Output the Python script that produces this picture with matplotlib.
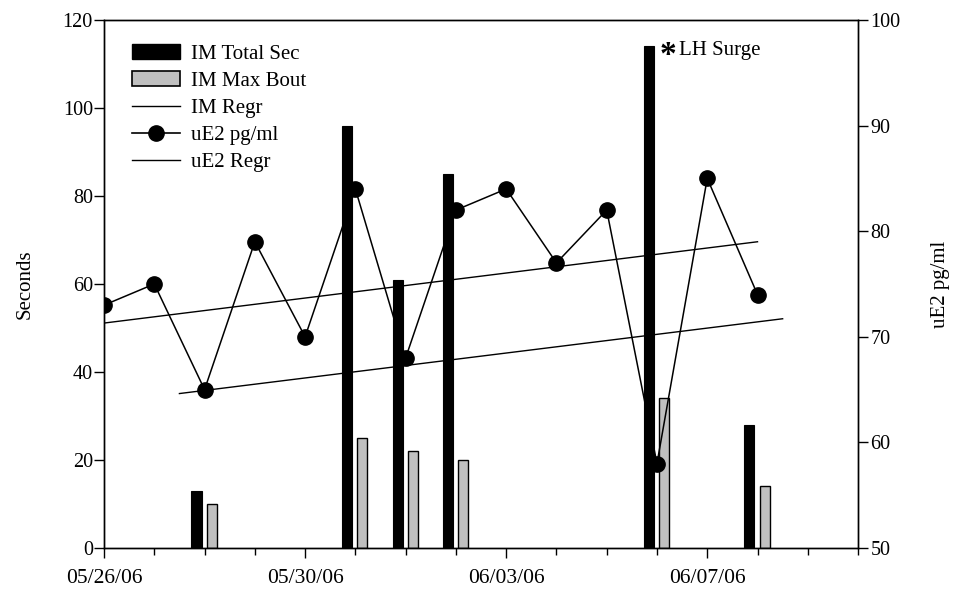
import matplotlib
matplotlib.use("Agg")
import matplotlib.pyplot as plt
import matplotlib.dates as mdates
from matplotlib.patches import Patch
from matplotlib.lines import Line2D
import numpy as np

plt.rcParams['font.family'] = ['Liberation Serif', 'DejaVu Serif']

# ---- data ----
bar_dates = ['2006-05-28', '2006-05-31', '2006-06-01', '2006-06-02', '2006-06-06', '2006-06-08']
im_total_sec = [13, 96, 61, 85, 114, 28]
im_max_bout = [10, 25, 22, 20, 34, 14]

ue2_dates = ['2006-05-26', '2006-05-27', '2006-05-28', '2006-05-29', '2006-05-30', '2006-05-31',
             '2006-06-01', '2006-06-02', '2006-06-03', '2006-06-04', '2006-06-05', '2006-06-06',
             '2006-06-07', '2006-06-08']
ue2_values = [73, 75, 65, 79, 70, 84, 68, 82, 84, 77, 82, 58, 85, 74]

im_regr_dates = ['2006-05-27 12:00', '2006-06-08 12:00']
im_regr_values = [35.1, 52.1]
ue2_regr_dates = ['2006-05-26', '2006-06-08']
ue2_regr_values = [71.3, 79.0]

legend_labels = ['IM Total Sec', 'IM Max Bout', 'IM Regr', 'uE2 pg/ml', 'uE2 Regr']
annotation_date = '2006-06-06'

# ---- figure ----
fig = plt.figure(figsize=(9.57, 5.9), dpi=100)
ax = fig.add_axes([0.1087, 0.0712, 0.7879, 0.8949])
ax2 = ax.twinx()

to_num = lambda s: mdates.date2num(np.datetime64(s))
bx = np.array([to_num(d) for d in bar_dates])
ex = np.array([to_num(d) for d in ue2_dates])

bw = 0.2
ax.bar(bx - 0.16, im_total_sec, width=bw, color='black', edgecolor='black', linewidth=0.8, zorder=2)
ax.bar(bx + 0.14, im_max_bout, width=bw, color='#c0c0c0', edgecolor='black', linewidth=1.0, zorder=2)
ax.plot([to_num(d) for d in im_regr_dates], im_regr_values, color='black', lw=1.0, zorder=3)

ax2.plot(ex, ue2_values, color='black', lw=1.1, marker='o', markersize=11, zorder=4)
ax2.plot([to_num(d) for d in ue2_regr_dates], ue2_regr_values, color='black', lw=1.0, zorder=3)

ax.set_xlim(to_num('2006-05-26'), to_num('2006-06-10'))
ax.set_ylim(0, 120)
ax2.set_ylim(50, 100)
ax.set_yticks(np.arange(0, 121, 20))
ax2.set_yticks(np.arange(50, 101, 10))

ax.xaxis.set_major_locator(mdates.DayLocator(bymonthday=[26, 30, 3, 7]))
ax.xaxis.set_minor_locator(mdates.DayLocator())
ax.xaxis.set_major_formatter(mdates.DateFormatter('%m/%d/%y'))

ax.tick_params(axis='y', which='major', direction='out', length=7, width=1, labelsize=14.5, pad=1)
ax.tick_params(axis='x', which='major', direction='out', length=7, width=1, labelsize=15.5, pad=8)
ax.tick_params(axis='x', which='minor', direction='out', length=5, width=1)
ax2.tick_params(axis='y', which='major', direction='out', length=7, width=1, labelsize=14.5, pad=2)

ax.set_ylabel('Seconds', fontsize=15, labelpad=20)
ax2.set_ylabel('uE2 pg/ml', fontsize=15, labelpad=22)

for a in (ax, ax2):
    for s in a.spines.values():
        s.set_linewidth(1.0)

ax.text(to_num(annotation_date) + 0.06, 110.0, '*', fontsize=24, fontweight='bold', va='baseline', ha='left')
ax.text(to_num(annotation_date) + 0.44, 112, 'LH Surge', fontsize=15, va='baseline', ha='left')

handles = [Patch(facecolor='black', edgecolor='black'),
           Patch(facecolor='#c0c0c0', edgecolor='black', linewidth=1.2),
           Line2D([], [], color='black', lw=1.0),
           Line2D([], [], color='black', lw=1.2, marker='o', markersize=11),
           Line2D([], [], color='black', lw=1.0)]
fig.legend(handles, legend_labels, loc='upper left', bbox_to_anchor=(0.138, 0.925),
           frameon=False, fontsize=15, handlelength=2.3, handletextpad=0.55,
           labelspacing=0.36, borderpad=0, borderaxespad=0)

fig.savefig('out.png', dpi=100)
